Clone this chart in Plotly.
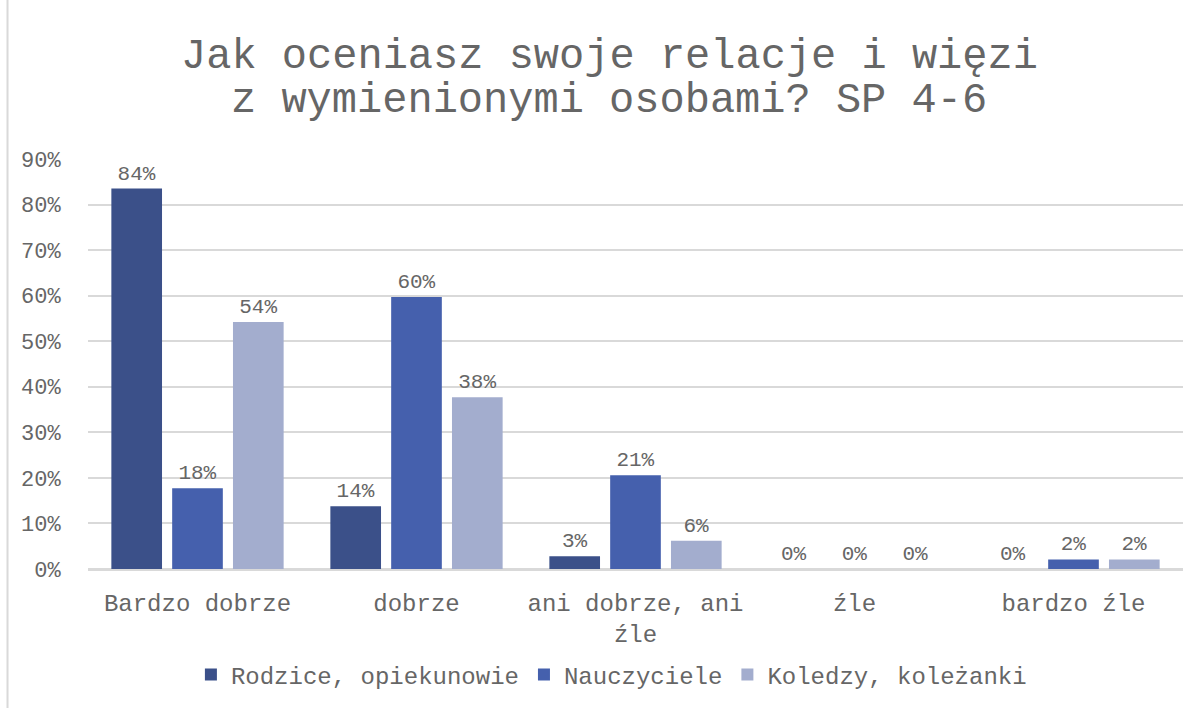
import plotly.graph_objects as go

categories = ["Bardzo dobrze", "dobrze", "ani dobrze, ani<br>źle", "źle", "bardzo źle"]
series_names = ["Rodzice, opiekunowie", "Nauczyciele", "Koledzy, koleżanki"]
rodzice = [0.835, 0.138, 0.028, 0.0, 0.0]
nauczyciele = [0.177, 0.597, 0.206, 0.0, 0.021]
koledzy = [0.542, 0.377, 0.062, 0.0, 0.021]
y_ticks = [0, 0.1, 0.2, 0.3, 0.4, 0.5, 0.6, 0.7, 0.8, 0.9]
title_lines = ["Jak oceniasz swoje relacje i więzi", "z wymienionymi osobami? SP 4-6"]
colors = ["#3B5089", "#4560AD", "#A3ADCE"]

FONT = "Liberation Mono, Courier New, monospace"
GRAY = "#666666"

fig = go.Figure()
for name, vals, col in zip(series_names, [rodzice, nauczyciele, koledzy], colors):
    fig.add_trace(go.Bar(
        name=name, x=categories, y=vals,
        marker=dict(color=col, line=dict(width=0)),
        text=vals,
        texttemplate="%{y:.0%}",
        textposition="outside",
        constraintext="none",
        textfont=dict(family=FONT, size=21, color=GRAY),
        cliponaxis=False,
    ))

fig.update_layout(
    width=1202, height=708,
    paper_bgcolor="white", plot_bgcolor="white",
    margin=dict(l=88, r=19, t=159, b=138),
    barmode="group", bargap=0.167, bargroupgap=0.167,
    font=dict(family=FONT, color=GRAY),
    showlegend=True,
    legend=dict(
        orientation="h", x=0.478, xanchor="center", y=-0.2555, yanchor="middle",
        font=dict(family=FONT, size=24, color=GRAY),
        traceorder="normal", itemwidth=30,
    ),
    xaxis=dict(
        showline=True, linecolor="#D9D9D9", linewidth=2,
        ticks="outside", ticklen=11, tickcolor="rgba(0,0,0,0)",
        tickfont=dict(family=FONT, size=24, color=GRAY),
    ),
    yaxis=dict(
        range=[0, 0.9], tickvals=y_ticks, tickformat=".0%",
        showgrid=True, gridcolor="#D9D9D9", gridwidth=2,
        zeroline=True, zerolinecolor="#D9D9D9", zerolinewidth=2,
        showline=False, ticks="outside", ticklen=22, tickcolor="rgba(0,0,0,0)",
        tickfont=dict(family=FONT, size=22, color=GRAY),
    ),
    annotations=[
        dict(text=title_lines[0], xref="paper", yref="paper", x=0.476, y=1.25,
             xanchor="center", yanchor="middle", showarrow=False,
             font=dict(family=FONT, size=42, color=GRAY)),
        dict(text=title_lines[1], xref="paper", yref="paper", x=0.476, y=1.141,
             xanchor="center", yanchor="middle", showarrow=False,
             font=dict(family=FONT, size=42, color=GRAY)),
    ],
    shapes=[dict(type="line", xref="paper", yref="paper",
                 x0=-0.0735, x1=-0.0735, y0=-0.4, y1=1.5,
                 line=dict(color="#D9D9D9", width=2), layer="below")],
)

fig.write_html("out.html", config={"displayModeBar": False},
               post_script="document.body.style.margin='0';")
